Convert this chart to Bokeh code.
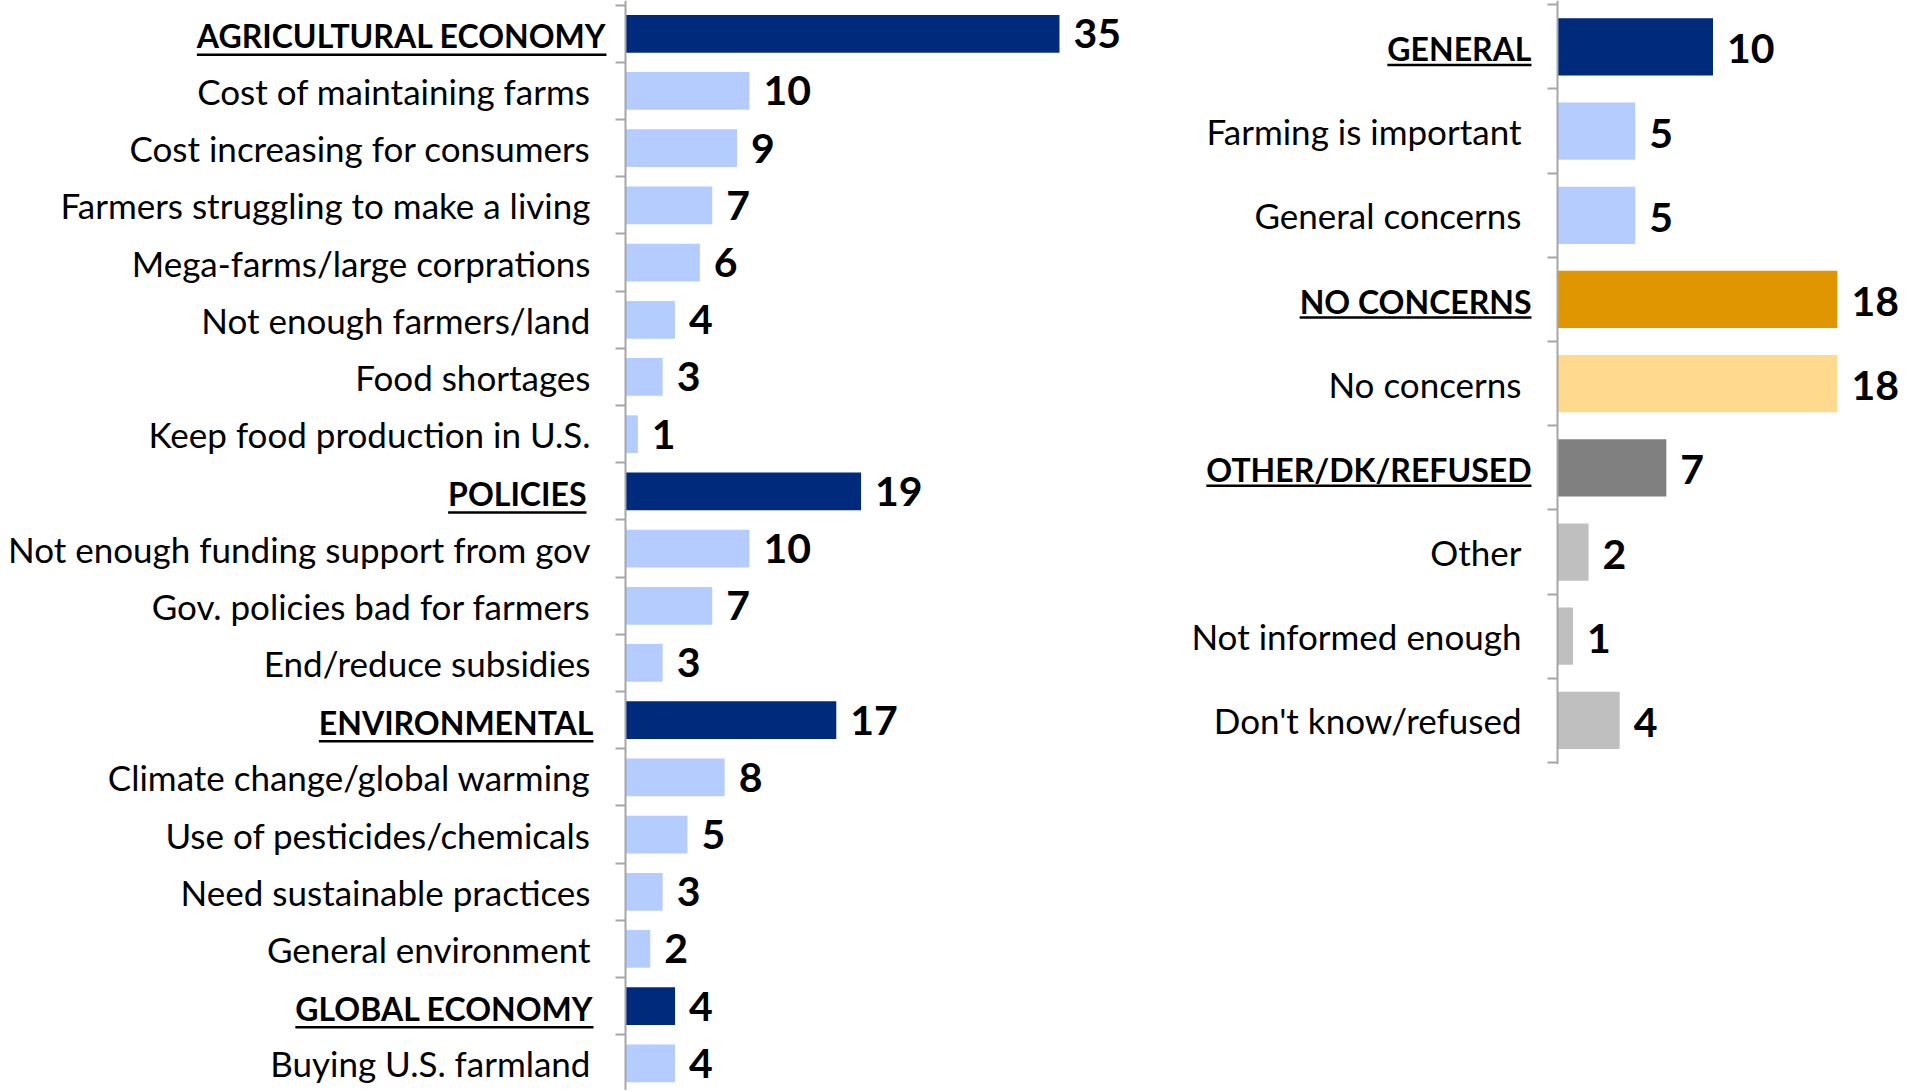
from bokeh.plotting import figure
from bokeh.layouts import row
from bokeh.models import Range1d, FixedTicker, ColumnDataSource, CustomJS
from bokeh.document import Document
from bokeh.core.properties import value
from bokeh.embed import file_html
from bokeh.resources import INLINE

# ---------------- data ----------------
left_labels = [
    "AGRICULTURAL ECONOMY", "Cost of maintaining farms", "Cost increasing for consumers",
    "Farmers struggling to make a living", "Mega-farms/large corprations",
    "Not enough farmers/land", "Food shortages", "Keep food production in U.S.",
    "POLICIES", "Not enough funding support from gov", "Gov. policies bad for farmers",
    "End/reduce subsidies",
    "ENVIRONMENTAL", "Climate change/global warming", "Use of pesticides/chemicals",
    "Need sustainable practices", "General environment",
    "GLOBAL ECONOMY", "Buying U.S. farmland",
]
left_values = [35, 10, 9, 7, 6, 4, 3, 1, 19, 10, 7, 3, 17, 8, 5, 3, 2, 4, 4]
left_is_header = [True, False, False, False, False, False, False, False,
                  True, False, False, False,
                  True, False, False, False, False,
                  True, False]

right_labels = [
    "GENERAL", "Farming is important", "General concerns",
    "NO CONCERNS", "No concerns",
    "OTHER/DK/REFUSED", "Other", "Not informed enough", "Don't know/refused",
]
right_values = [10, 5, 5, 18, 18, 7, 2, 1, 4]
right_is_header = [True, False, False, True, False, True, False, False, False]
right_group = ["general", "general", "general", "none", "none",
               "other", "other", "other", "other"]

# ---------------- style ----------------
NAVY = "#002B7D"
LIGHT_BLUE = "#B4CCFF"
GROUP_COLORS = {
    "general": (NAVY, LIGHT_BLUE),
    "none": ("#E09600", "#FFD98E"),
    "other": ("#808080", "#BFBFBF"),
}
FONT = "Lato"
LABEL_SIZE = 35
HEADER_SIZE = 32
VALUE_SIZE = 41
AXIS_COLOR = "#A6A6A6"

# header label distance from the axis (px), per header, in order
left_header_gap = [19, 39, 32, 32]
right_header_gap = [26, 26, 26]


def panel(labels, vals, is_header, bar_colors, header_gaps, label_gap,
          width, height, x_range, y_range, bar_height, ul_offset, value_dy):
    n = len(labels)
    idx = list(range(n))
    p = figure(width=width, height=height, x_range=Range1d(*x_range),
               y_range=Range1d(*y_range), output_backend="svg",
               toolbar_location=None, x_axis_location=None, y_axis_location="left",
               min_border=0, outline_line_color=None, background_fill_color="white",
               border_fill_color="white")
    p.grid.visible = False
    ax = p.yaxis[0]
    ax.fixed_location = 0
    ax.ticker = FixedTicker(ticks=[i - 0.5 for i in range(n + 1)])
    ax.major_label_text_color = None
    ax.major_tick_in = 0
    ax.major_tick_out = 10
    ax.minor_tick_line_color = None
    ax.axis_line_color = AXIS_COLOR
    ax.axis_line_width = 2
    ax.major_tick_line_color = AXIS_COLOR
    ax.major_tick_line_width = 2

    px_x = width / (x_range[1] - x_range[0])
    px_y = height / abs(y_range[0] - y_range[1])

    bars = ColumnDataSource(dict(y=idx, right=vals, color=bar_colors,
                                 text=[str(v) for v in vals]))
    p.hbar(y="y", left=0, right="right", height=bar_height, fill_color="color",
           line_color=None, source=bars)
    p.text(x="right", y="y", text="text", source=bars, x_offset=14, y_offset=value_dy,
           text_align="left", text_baseline="middle", text_font=value(FONT),
           text_font_style="bold", text_font_size=f"{VALUE_SIZE}px", text_color="black")

    hy = [i for i in idx if is_header[i]]
    ny = [i for i in idx if not is_header[i]]
    p.text(x=[0] * len(ny), y=ny, text=[labels[i] for i in ny], x_offset=-label_gap,
           text_align="right", text_baseline="middle", text_font=value(FONT),
           text_font_size=f"{LABEL_SIZE}px", text_color="black")
    hsrc = ColumnDataSource(dict(x=[0] * len(hy), y=hy, text=[labels[i] for i in hy],
                                 xo=[-g for g in header_gaps]))
    p.text(x="x", y="y", text="text", x_offset="xo", y_offset=2, source=hsrc,
           text_align="right", text_baseline="middle", text_font=value(FONT),
           text_font_style="bold", text_font_size=f"{HEADER_SIZE}px", text_color="black")

    # underline for headers; length refined in the browser by measuring the text
    x1 = [-g / px_x for g in header_gaps]
    x0 = [a - 0.62 * HEADER_SIZE * len(labels[i]) / px_x for a, i in zip(x1, hy)]
    uy = [i + ul_offset / px_y for i in hy]
    usrc = ColumnDataSource(dict(x0=x0, x1=x1, y=uy, text=[labels[i] for i in hy]))
    p.segment(x0="x0", y0="y", x1="x1", y1="y", source=usrc, line_color="black",
              line_width=2.5)
    cb = CustomJS(args=dict(src=usrc, scale=px_x, font=f"bold {HEADER_SIZE}px {FONT}"), code="""
        const ctx = document.createElement('canvas').getContext('2d');
        ctx.font = font;
        const d = src.data;
        const x1 = Array.from(d.x1);
        const x0 = x1.map((v, i) => v - ctx.measureText(d.text[i]).width / scale);
        src.data = {x0: x0, x1: x1, y: Array.from(d.y), text: Array.from(d.text)};
    """)
    return p, cb


left_colors = [NAVY if h else LIGHT_BLUE for h in left_is_header]
right_colors = [GROUP_COLORS[g][0 if h else 1] for g, h in zip(right_group, right_is_header)]

pl, cbl = panel(left_labels, left_values, left_is_header, left_colors, left_header_gap, 35,
                1150, 1090, (-50.40, 42.34), (18.474, -0.582), 0.66, 21, 0)
pr, cbr = panel(right_labels, right_values, right_is_header, right_colors, right_header_gap, 36,
                760, 764, (-26.17, 22.70), (8.524, -0.551), 0.68, 18, 2)

layout = row(pl, pr, spacing=0)
doc = Document()
doc.add_root(layout)
doc.js_on_event("document_ready", cbl, cbr)

open("out.html", "w").write(file_html(doc, INLINE))
